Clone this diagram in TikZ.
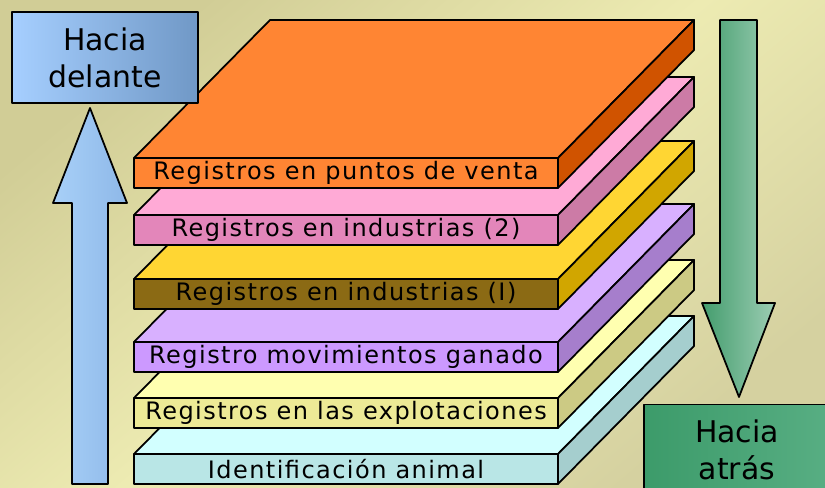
\documentclass[tikz,border=0pt]{standalone}
\usepackage{fontspec}
\setmainfont{DejaVu Sans}
\newfontfamily\slabfont[LetterSpace=6]{DejaVu Sans}
\usepackage{xcolor}
\usepackage{tikz}

\begin{document}
\begin{tikzpicture}[x = {(0.03cm,0cm)},
                    y = {(0cm,-0.03cm)}]


  % CANVAS
  \definecolor{bgcolor_a}{HTML}{D1CD96}
  \definecolor{bgcolor_b}{HTML}{EDEBB2}
  \definecolor{bgcolor_c}{HTML}{D5D1A0}
  \useasboundingbox (0,0) rectangle (825,488);
  \clip (0,0) rectangle (825,488);
  \shade[top color=bgcolor_a, bottom color=bgcolor_c, middle color=bgcolor_b, shading angle=40] (0,0) rectangle (825,488);


  % EDGES STYLE
  \definecolor{edgecolor}{rgb}{ 0,0,0 }
  \tikzstyle{facestyle} = [draw=edgecolor, line width=1.5pt, line cap=round, line join=round]
  \tikzstyle{frontstyle} = [facestyle, minimum width=12.72cm, minimum height=0.9cm, inner sep=0pt, font=\slabfont\fontsize{20.5}{23}\selectfont]
  \tikzstyle{boxstyle} = [facestyle, minimum width=5.58cm, minimum height=2.73cm, inner sep=0pt, align=center, font=\fontsize{25.5}{31.5}\selectfont]


  % SLAB CYAN
  \definecolor{topcolor_cyan}{HTML}{D2FFFF}
  \definecolor{frontcolor_cyan}{HTML}{B9E6E6}
  \definecolor{sidecolor_cyan}{HTML}{A5CECE}
  \coordinate (v0_cyan) at (134, 454);
  \coordinate (v1_cyan) at (558, 454);
  \coordinate (v2_cyan) at (694, 316);
  \coordinate (v3_cyan) at (270, 316);
  \coordinate (v4_cyan) at (558, 484);
  \coordinate (v5_cyan) at (694, 346);
  \draw[facestyle, fill=topcolor_cyan] (v0_cyan) -- (v1_cyan) -- (v2_cyan) -- (v3_cyan) -- cycle;
  \draw[facestyle, fill=sidecolor_cyan] (v1_cyan) -- (v2_cyan) -- (v5_cyan) -- (v4_cyan) -- cycle;
  \node[frontstyle, fill=frontcolor_cyan] (front_cyan) at (346, 469) {Identificación animal};


  % SLAB LIGHT YELLOW
  \definecolor{topcolor_lyellow}{HTML}{FFFFB0}
  \definecolor{frontcolor_lyellow}{HTML}{EDEA96}
  \definecolor{sidecolor_lyellow}{HTML}{CCCA84}
  \coordinate (v0_lyellow) at (134, 398);
  \coordinate (v1_lyellow) at (558, 398);
  \coordinate (v2_lyellow) at (694, 260);
  \coordinate (v3_lyellow) at (270, 260);
  \coordinate (v4_lyellow) at (558, 428);
  \coordinate (v5_lyellow) at (694, 290);
  \draw[facestyle, fill=topcolor_lyellow] (v0_lyellow) -- (v1_lyellow) -- (v2_lyellow) -- (v3_lyellow) -- cycle;
  \draw[facestyle, fill=sidecolor_lyellow] (v1_lyellow) -- (v2_lyellow) -- (v5_lyellow) -- (v4_lyellow) -- cycle;
  \node[frontstyle, fill=frontcolor_lyellow] (front_lyellow) at (346, 413) {Registros en las explotaciones};


  % SLAB PURPLE
  \definecolor{topcolor_purple}{HTML}{D8B0FF}
  \definecolor{frontcolor_purple}{HTML}{CC99FF}
  \definecolor{sidecolor_purple}{HTML}{A67ECC}
  \coordinate (v0_purple) at (134, 342);
  \coordinate (v1_purple) at (558, 342);
  \coordinate (v2_purple) at (694, 204);
  \coordinate (v3_purple) at (270, 204);
  \coordinate (v4_purple) at (558, 372);
  \coordinate (v5_purple) at (694, 234);
  \draw[facestyle, fill=topcolor_purple] (v0_purple) -- (v1_purple) -- (v2_purple) -- (v3_purple) -- cycle;
  \draw[facestyle, fill=sidecolor_purple] (v1_purple) -- (v2_purple) -- (v5_purple) -- (v4_purple) -- cycle;
  \node[frontstyle, fill=frontcolor_purple] (front_purple) at (346, 357) {Registro movimientos ganado};


  % SLAB YELLOW
  \definecolor{topcolor_yellow}{HTML}{FFD633}
  \definecolor{frontcolor_yellow}{HTML}{8B6A14}
  \definecolor{sidecolor_yellow}{HTML}{D1A600}
  \coordinate (v0_yellow) at (134, 279);
  \coordinate (v1_yellow) at (558, 279);
  \coordinate (v2_yellow) at (694, 141);
  \coordinate (v3_yellow) at (270, 141);
  \coordinate (v4_yellow) at (558, 309);
  \coordinate (v5_yellow) at (694, 171);
  \draw[facestyle, fill=topcolor_yellow] (v0_yellow) -- (v1_yellow) -- (v2_yellow) -- (v3_yellow) -- cycle;
  \draw[facestyle, fill=sidecolor_yellow] (v1_yellow) -- (v2_yellow) -- (v5_yellow) -- (v4_yellow) -- cycle;
  \node[frontstyle, fill=frontcolor_yellow] (front_yellow) at (346, 294) {Registros en industrias (I)};


  % SLAB PINK
  \definecolor{topcolor_pink}{HTML}{FFAAD6}
  \definecolor{frontcolor_pink}{HTML}{E386BA}
  \definecolor{sidecolor_pink}{HTML}{CC7BA6}
  \coordinate (v0_pink) at (134, 215);
  \coordinate (v1_pink) at (558, 215);
  \coordinate (v2_pink) at (694, 77);
  \coordinate (v3_pink) at (270, 77);
  \coordinate (v4_pink) at (558, 245);
  \coordinate (v5_pink) at (694, 107);
  \draw[facestyle, fill=topcolor_pink] (v0_pink) -- (v1_pink) -- (v2_pink) -- (v3_pink) -- cycle;
  \draw[facestyle, fill=sidecolor_pink] (v1_pink) -- (v2_pink) -- (v5_pink) -- (v4_pink) -- cycle;
  \node[frontstyle, fill=frontcolor_pink] (front_pink) at (346, 230) {Registros en industrias (2)};


  % SLAB ORANGE
  \definecolor{topcolor_orange}{HTML}{FF8533}
  \definecolor{frontcolor_orange}{HTML}{FF8533}
  \definecolor{sidecolor_orange}{HTML}{D05300}
  \coordinate (v0_orange) at (134, 158);
  \coordinate (v1_orange) at (558, 158);
  \coordinate (v2_orange) at (694, 20);
  \coordinate (v3_orange) at (270, 20);
  \coordinate (v4_orange) at (558, 188);
  \coordinate (v5_orange) at (694, 50);
  \draw[facestyle, fill=topcolor_orange] (v0_orange) -- (v1_orange) -- (v2_orange) -- (v3_orange) -- cycle;
  \draw[facestyle, fill=sidecolor_orange] (v1_orange) -- (v2_orange) -- (v5_orange) -- (v4_orange) -- cycle;
  \node[frontstyle, fill=frontcolor_orange] (front_orange) at (346, 173) {Registros en puntos de venta};


  % ARROW FORWARD
  \definecolor{arrowcolor_fwd_a}{HTML}{A8D0F8}
  \definecolor{arrowcolor_fwd_b}{HTML}{8EB8E8}
  \definecolor{boxcolor_fwd_a}{HTML}{A6CFFF}
  \definecolor{boxcolor_fwd_b}{HTML}{7098C6}
  \draw[facestyle, left color=arrowcolor_fwd_a, right color=arrowcolor_fwd_b] (72, 484) -- (72, 203) -- (53, 203) -- (90, 108) -- (127, 203) -- (108, 203) -- (108, 484) -- cycle;
  \node[boxstyle, left color=boxcolor_fwd_a, right color=boxcolor_fwd_b] (box_fwd) at (105, 57.5) {Hacia\\delante};


  % ARROW BACKWARD
  \definecolor{arrowcolor_bwd_a}{HTML}{449D6E}
  \definecolor{arrowcolor_bwd_b}{HTML}{9CCDB3}
  \definecolor{boxcolor_bwd_a}{HTML}{3C9B6A}
  \definecolor{boxcolor_bwd_b}{HTML}{58AE83}
  \draw[facestyle, left color=arrowcolor_bwd_a, right color=arrowcolor_bwd_b] (720, 20) -- (757, 20) -- (757, 303) -- (775, 303) -- (739, 397) -- (702, 303) -- (720, 303) -- cycle;
  \node[boxstyle, left color=boxcolor_bwd_a, right color=boxcolor_bwd_b] (box_bwd) at (737, 450) {Hacia\\atrás};

\end{tikzpicture}
\end{document}
